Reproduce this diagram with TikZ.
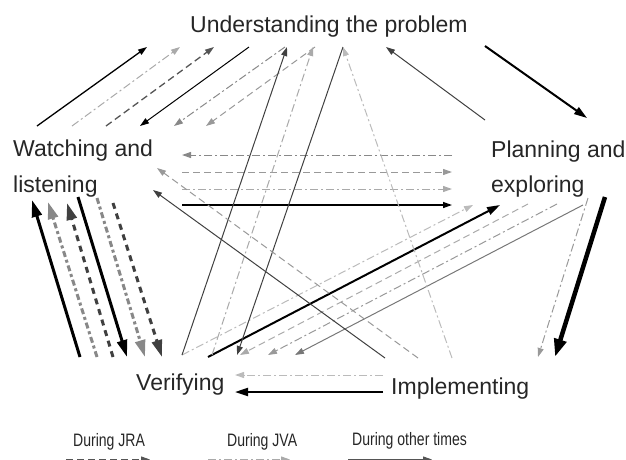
\documentclass[tikz,border=0pt]{standalone}
\usepackage{fontspec}
\setmainfont{Liberation Sans}
\usetikzlibrary{arrows.meta}
\definecolor{txt}{HTML}{262626}
\definecolor{gA}{HTML}{404040}
\definecolor{gB}{HTML}{555555}
\definecolor{gC}{HTML}{777777}
\definecolor{gD}{HTML}{888888}
\definecolor{gE}{HTML}{999999}
\definecolor{gF}{HTML}{AAAAAA}
\definecolor{gG}{HTML}{BBBBBB}
\newcommand\myarrow[4]{\coordinate (#1s) at (#2); \coordinate (#1e) at (#3); \draw[#4] (#1s) -- (#1e);}
\tikzset{
  lbl/.style={inner sep=0pt, anchor=base west, text=txt, font=\fontsize{23}{23}\selectfont},
  leg/.style={inner sep=0pt, anchor=base west, text=txt},
  tipS/.style={-{Triangle[length=9pt,width=6pt]}},
  tipM/.style={-{Triangle[length=13pt,width=8pt]}},
  tipT/.style={-{Triangle[length=17pt,width=10pt]}},
  tipL/.style={-{Triangle[length=18pt,width=12pt]}},
  dsh/.style={dash pattern=on 7pt off 4pt},
  dd/.style={dash pattern=on 8pt off 3pt on 2pt off 3pt},
  thdsh/.style={dash pattern=on 6pt off 5pt},
  thdd/.style={dash pattern=on 6pt off 3pt on 3pt off 3pt},
  thin/.style={line width=1pt, tipS},
  med/.style={line width=2pt, tipM},
  thk/.style={line width=3pt, tipT},
}
\begin{document}
\begin{tikzpicture}[x=1pt,y=-1pt]
\useasboundingbox (0,0) rectangle (626,459);
\clip (0,0) rectangle (626,459);
% labels
\node[lbl] (U) at (190,32) {Understanding the problem};
\node[lbl] (W1) at (13,156) {Watching and};
\node[lbl] (W2) at (13,192) {listening};
\node[lbl] (P1) at (491,157) {Planning and};
\node[lbl] (P2) at (491,192) {exploring};
\node[lbl] (V) at (136,390) {Verifying};
\node[lbl] (I) at (391,394) {Implementing};
% legend
\node[leg] (L1) at (73,446) {\scalebox{0.78}[1]{\fontsize{18}{18}\selectfont During JRA}};
\node[leg] (L2) at (227,446) {\scalebox{0.78}[1]{\fontsize{18}{18}\selectfont During JVA}};
\node[leg] (L3) at (352,445) {\scalebox{0.78}[1]{\fontsize{18}{18}\selectfont During other times}};
\myarrow{k1}{66,459.5}{150,459.5}{thin, gB, dsh}
\myarrow{k2}{208,459.5}{290,459.5}{thin, gF, dd}
\myarrow{k3}{348,459.5}{432,459.5}{thin, gB}
% W <-> U
\myarrow{a1}{37,126}{147,47}{thin, black, line width=1.3pt}
\myarrow{a2}{72,126}{180,47}{thin, gF, dd}
\myarrow{a3}{106,126}{214,47}{thin, gB, dsh, line width=1.3pt}
\myarrow{a4}{249,47}{140,126}{thin, black}
\myarrow{a5}{285,47}{174,126}{thin, gD, dd}
\myarrow{a6}{315,47}{206,126}{thin, gE, dsh}
% U <-> P
\myarrow{b1}{485,120}{386,47}{thin, gA}
\myarrow{b2}{485,46}{587,118}{med, black}
% W <-> P
\myarrow{c1}{452,155}{182,155}{thin, gD, dd}
\myarrow{c2}{182,172}{452,172}{thin, gE, dsh}
\myarrow{c3}{182,189}{452,189}{thin, gF, dd}
\myarrow{c4}{182,205}{452,205}{thin, black, line width=1.3pt}
% P -> I
\myarrow{d1}{605,197}{555,357}{line width=4.5pt, tipL, black}
\myarrow{d2}{588,198}{538,357}{thin, gE, dd}
% V <-> P
\myarrow{e1}{182,355}{473,205}{thin, gG, dd}
\myarrow{e2}{208,357}{500,205}{med, black}
\myarrow{e3}{528,204}{240,355}{thin, gF, dsh}
\myarrow{e4}{557,204}{268,355}{thin, gE, dd}
\myarrow{e5}{583,205}{295,355}{thin, gC}
% V <-> U
\myarrow{f1}{182,355}{287,47}{thin, gA}
\myarrow{f2}{212,355}{313,47}{thin, gF, dd}
\myarrow{f3}{343,47}{237,355}{thin, gA}
% I -> U
\myarrow{g1}{452,358}{343,47}{thin, gG, dd}
% I -> W
\myarrow{h1}{385,358}{153,190}{thin, gA}
\myarrow{h2}{418,358}{157,168}{thin, gE, dsh}
% I -> V
\myarrow{i1}{383,375}{235,375}{thin, gG, dd}
\myarrow{i2}{383,392}{235,392}{med, black}
% W <-> V
\myarrow{j1}{80,357}{32,200}{thk, black}
\myarrow{j2}{97,357}{48,202}{thk, gD, thdd}
\myarrow{j3}{113,357}{67,203}{thk, gA, thdsh}
\myarrow{j4}{78,197}{127,357}{thk, black}
\myarrow{j5}{97,198}{145,357}{thk, gD, thdd}
\myarrow{j6}{113,203}{162,357}{thk, gA, thdsh}
\end{tikzpicture}
\end{document}
